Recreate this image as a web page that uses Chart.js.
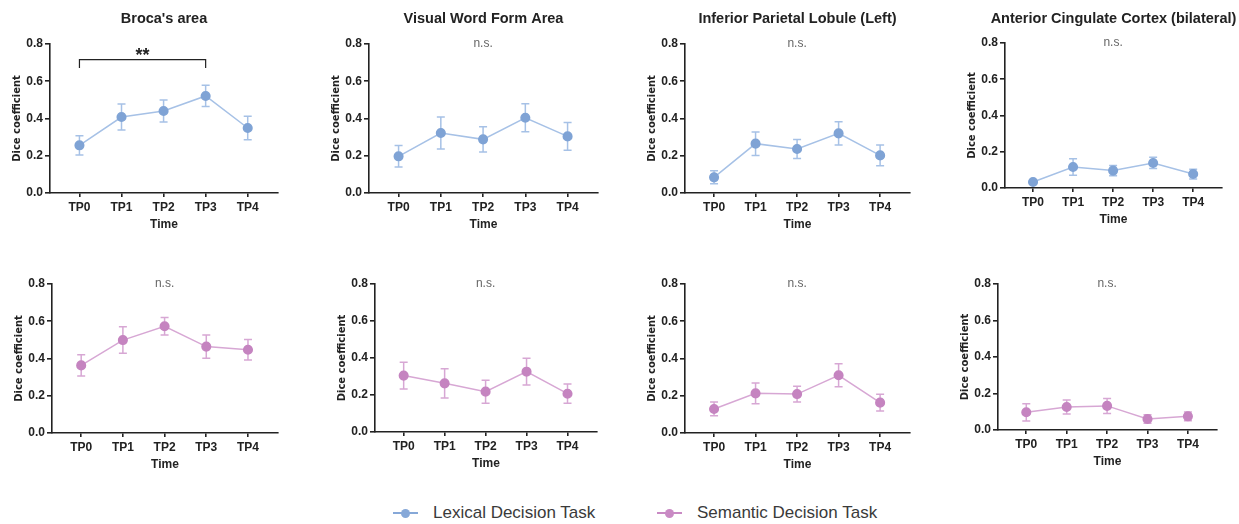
<!DOCTYPE html>
<html>
<head>
<meta charset="utf-8">
<script src="https://cdn.jsdelivr.net/npm/chart.js@4.4.1/dist/chart.umd.min.js"></script>
<style>
    body { margin: 0; background: #fff; width: 1239px; height: 524px; position: relative; overflow: hidden; font-family: "Liberation Sans", Arial, sans-serif; }
    .panel { position: absolute; }
    .item { position: absolute; top: 502px; height: 22px; line-height: 22px; font-size: 17px; color: #3a3a3a; white-space: nowrap; }
    .mk { position: absolute; left: 0; top: 10px; width: 25px; height: 2px; }
    .mk::after { content: ''; position: absolute; left: 8px; top: -3.5px; width: 9px; height: 9px; border-radius: 50%; background: inherit; }
    .item span.txt { position: absolute; left: 40px; top: 0; }
</style>
</head>
<body>

<div class="item" style="left:393px"><span class="mk" style="background:#86a8d8"></span><span class="txt">Lexical Decision Task</span></div>
<div class="item" style="left:657px"><span class="mk" style="background:#c98ac4"></span><span class="txt">Semantic Decision Task</span></div>

<script>
const timePoints = ['TP0', 'TP1', 'TP2', 'TP3', 'TP4'];
const regions = ["Broca's area", 'Visual Word Form Area', 'Inferior Parietal Lobule (Left)', 'Anterior Cingulate Cortex (bilateral)'];
const yTicks = [0, 0.2, 0.4, 0.6, 0.8];

// Lexical decision task: mean and error (SEM)
const lexBroca = [0.256, 0.408, 0.44, 0.521, 0.349];
const lexBrocaErr = [0.052, 0.07, 0.059, 0.057, 0.063];
const lexVwfa = [0.197, 0.322, 0.288, 0.404, 0.304];
const lexVwfaErr = [0.058, 0.086, 0.068, 0.075, 0.075];
const lexIpl = [0.084, 0.265, 0.236, 0.32, 0.202];
const lexIplErr = [0.035, 0.063, 0.051, 0.062, 0.056];
const lexAcc = [0.033, 0.116, 0.096, 0.138, 0.077];
const lexAccErr = [0.01, 0.045, 0.028, 0.031, 0.027];

// Semantic decision task: mean and error (SEM)
const semBroca = [0.363, 0.499, 0.573, 0.464, 0.447];
const semBrocaErr = [0.057, 0.071, 0.047, 0.062, 0.055];
const semVwfa = [0.305, 0.263, 0.218, 0.326, 0.207];
const semVwfaErr = [0.072, 0.079, 0.062, 0.072, 0.052];
const semIpl = [0.129, 0.213, 0.209, 0.31, 0.163];
const semIplErr = [0.037, 0.056, 0.042, 0.062, 0.045];
const semAcc = [0.097, 0.126, 0.132, 0.06, 0.075];
const semAccErr = [0.047, 0.038, 0.041, 0.023, 0.024];

// significance marks
const brocaLexSig = { from: 0, to: 3, level: 0.716, foot: 0.671, text: '**' };
const nsLabel = 'n.s.';

const blue = { dot: '#7fa3d5', line: '#a6c1e6' };
const pink = { dot: '#c584c0', line: '#d7a7d4' };

const Y_W = 45, X_H = 42, PAD = 15;

// cl, ct, cr, cb = wanted plot area; canvas is built around it
const panels = [
    { y: 0,   h: 250, cl: 50,   ct: 44,  cr: 278,  cb: 193, title: regions[0], values: lexBroca, errs: lexBrocaErr, col: blue, sig: brocaLexSig },
    { y: 0,   h: 250, cl: 369,  ct: 44,  cr: 598,  cb: 193, title: regions[1], values: lexVwfa,  errs: lexVwfaErr,  col: blue },
    { y: 0,   h: 250, cl: 685,  ct: 44,  cr: 910,  cb: 193, title: regions[2], values: lexIpl,   errs: lexIplErr,   col: blue },
    { y: 0,   h: 250, cl: 1005, ct: 43,  cr: 1222, cb: 188, title: regions[3], values: lexAcc,   errs: lexAccErr,   col: blue },
    { y: 255, h: 225, cl: 52,   ct: 284, cr: 278,  cb: 433, values: semBroca, errs: semBrocaErr, col: pink },
    { y: 255, h: 225, cl: 375,  ct: 284, cr: 597,  cb: 432, values: semVwfa,  errs: semVwfaErr,  col: pink },
    { y: 255, h: 225, cl: 685,  ct: 284, cr: 910,  cb: 433, values: semIpl,   errs: semIplErr,   col: pink },
    { y: 255, h: 225, cl: 998,  ct: 284, cr: 1217, cb: 430, values: semAcc,   errs: semAccErr,   col: pink }
];

const errorBars = {
    id: 'errorBars',
    beforeDatasetsDraw(chart, args, opts) {
        const { ctx, scales: { x, y } } = chart;
        const ds = chart.data.datasets[0];
        ctx.save();
        ctx.strokeStyle = opts.color;
        ctx.lineWidth = 1.5;
        ds.data.forEach((pt, i) => {
            const e = opts.errors[i];
            const px = x.getPixelForValue(pt.x);
            const top = y.getPixelForValue(pt.y + e);
            const bot = y.getPixelForValue(pt.y - e);
            ctx.beginPath();
            ctx.moveTo(px, top); ctx.lineTo(px, bot);
            ctx.moveTo(px - 4, top); ctx.lineTo(px + 4, top);
            ctx.moveTo(px - 4, bot); ctx.lineTo(px + 4, bot);
            ctx.stroke();
        });
        ctx.restore();
    }
};

const sigMarks = {
    id: 'sigMarks',
    afterDraw(chart, args, opts) {
        const { ctx, scales: { x, y } } = chart;
        ctx.save();
        ctx.textAlign = 'center';
        if (opts.bracket) {
            const b = opts.bracket;
            const x1 = x.getPixelForValue(b.from), x2 = x.getPixelForValue(b.to);
            const yTop = y.getPixelForValue(b.level), yFoot = y.getPixelForValue(b.foot);
            ctx.strokeStyle = '#222';
            ctx.lineWidth = 1.2;
            ctx.beginPath();
            ctx.moveTo(x1, yFoot); ctx.lineTo(x1, yTop); ctx.lineTo(x2, yTop); ctx.lineTo(x2, yFoot);
            ctx.stroke();
            ctx.fillStyle = '#222';
            ctx.font = 'bold 18px "Liberation Sans", Arial, sans-serif';
            ctx.textBaseline = 'alphabetic';
            ctx.fillText(b.text, (x1 + x2) / 2, yTop + 1);
        } else {
            ctx.fillStyle = '#666';
            ctx.font = '12px "Liberation Sans", Arial, sans-serif';
            ctx.textBaseline = 'middle';
            ctx.fillText(nsLabel, x.getPixelForValue(2), y.getPixelForValue(0.8));
        }
        ctx.restore();
    }
};

const axisFont = { family: '"Liberation Sans", Arial, sans-serif', size: 12, weight: 'bold' };
const yTitleFont = { family: '"DejaVu Sans", sans-serif', size: 10, weight: 'bold' };

function makePanel(p) {
    // canvas is symmetric around the plot area so the title centres on it
    const x = p.cl - Y_W - PAD;
    const w = (p.cr - p.cl) + 2 * (Y_W + PAD);
    const div = document.createElement('div');
    div.className = 'panel';
    div.style.left = x + 'px';
    div.style.top = p.y + 'px';
    const cv = document.createElement('canvas');
    cv.width = w;
    cv.height = p.h;
    div.appendChild(cv);
    document.body.appendChild(div);

    const titleSize = 14.5;
    const titleTop = 19 - titleSize * 0.6, titleLine = titleSize * 1.2;
    new Chart(cv, {
        type: 'line',
        data: {
            datasets: [{
                data: p.values.map((v, i) => ({ x: i, y: v })),
                borderColor: p.col.line,
                backgroundColor: p.col.dot,
                pointBackgroundColor: p.col.dot,
                pointBorderColor: p.col.dot,
                pointRadius: 4.3,
                borderWidth: 1.5,
                tension: 0
            }]
        },
        options: {
            responsive: false,
            animation: false,
            layout: {
                padding: {
                    left: PAD,
                    right: PAD,
                    top: p.title ? 0 : p.ct - p.y,
                    bottom: (p.y + p.h) - p.cb - X_H
                }
            },
            plugins: {
                legend: { display: false },
                tooltip: { enabled: false },
                title: {
                    display: !!p.title,
                    text: p.title || '',
                    color: '#222',
                    font: { family: '"Liberation Sans", Arial, sans-serif', size: titleSize, weight: 'bold' },
                    padding: { top: titleTop, bottom: (p.ct - p.y) - titleTop - titleLine }
                },
                errorBars: { errors: p.errs, color: p.col.line },
                sigMarks: { bracket: p.sig }
            },
            scales: {
                x: {
                    type: 'linear',
                    min: -0.7,
                    max: 4.72,
                    afterBuildTicks: s => { s.ticks = timePoints.map((_, i) => ({ value: i })); },
                    afterFit: s => { s.height = X_H; },
                    ticks: { callback: v => timePoints[v], font: axisFont, color: '#222', padding: 3, maxRotation: 0, autoSkip: false },
                    grid: { drawOnChartArea: false, drawTicks: true, tickLength: 4, color: '#222', lineWidth: 1.6 },
                    border: { display: true, color: '#222', width: 1.6 },
                    title: { display: true, text: 'Time', font: axisFont, color: '#222', padding: { top: 0, bottom: 3 } }
                },
                y: {
                    min: 0,
                    max: 0.8,
                    afterBuildTicks: s => { s.ticks = yTicks.map(v => ({ value: v })); },
                    afterFit: s => { s.width = Y_W; },
                    ticks: { callback: v => v.toFixed(1), font: axisFont, color: '#222', padding: 2 },
                    grid: { drawOnChartArea: false, drawTicks: true, tickLength: 5, color: '#222', lineWidth: 1.6 },
                    border: { display: true, color: '#222', width: 1.6 },
                    title: { display: true, text: 'Dice coefficient', font: yTitleFont, color: '#222', padding: { top: 6, bottom: 4 } }
                },
                // empty right-hand spacer so the plot area sits centred under the title
                spacer: {
                    position: 'right',
                    min: 0,
                    max: 0.8,
                    afterFit: s => { s.width = Y_W; },
                    ticks: { display: false },
                    grid: { display: false },
                    border: { display: false }
                }
            }
        },
        plugins: [errorBars, sigMarks]
    });
}

panels.forEach(makePanel);
</script>
</body>
</html>
